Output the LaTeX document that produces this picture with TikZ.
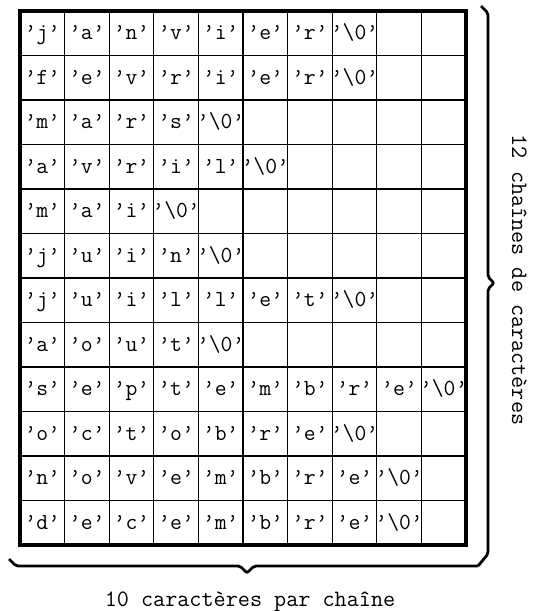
\documentclass[tikz,border=0pt]{standalone}
\newcommand\nulchar{\textbackslash 0}
\begin{document}
\begin{tikzpicture}[x=1pt,y=-1pt,line join=miter,
  celltext/.style={font=\ttfamily\fontsize{23}{27}\selectfont, inner sep=0pt, text height=14pt, text depth=1pt},
  labeltext/.style={font=\ttfamily\fontsize{23.5}{27}\selectfont, inner sep=0pt},
  gridline/.style={line width=1.3pt},
  border/.style={line width=3.4pt},
  bracepath/.style={line width=2.8pt, rounded corners=2pt}]
\useasboundingbox (0,0) rectangle (534,611);
% grid
\foreach \i in {1,...,9} \draw[gridline] ({20+\i*44.6},11) -- ({20+\i*44.6},545);
\foreach \j in {1,...,11} \draw[gridline] (20,{11+\j*44.5}) -- (466,{11+\j*44.5});
\draw[border] (20,11) rectangle (466,545);
% cell contents
\foreach \row [count=\r] in {
  {j,a,n,v,i,e,r,\nulchar},
  {f,e,v,r,i,e,r,\nulchar},
  {m,a,r,s,\nulchar},
  {a,v,r,i,l,\nulchar},
  {m,a,i,\nulchar},
  {j,u,i,n,\nulchar},
  {j,u,i,l,l,e,t,\nulchar},
  {a,o,u,t,\nulchar},
  {s,e,p,t,e,m,b,r,e,\nulchar},
  {o,c,t,o,b,r,e,\nulchar},
  {n,o,v,e,m,b,r,e,\nulchar},
  {d,e,c,e,m,b,r,e,\nulchar}}
{
  \foreach \ch [count=\k] in \row
    \node[celltext] (c-\r-\k) at ({20+(\k-0.5)*44.6},{11+(\r-0.5)*44.5}) {’\ch’};
}
% braces
\coordinate (rb-top) at (481,6);
\coordinate (rb-tip) at (494,283);
\coordinate (corner) at (478,566);
\coordinate (bb-left) at (9,559);
\coordinate (bb-tip) at (247,573);
\draw[bracepath] (rb-top) -- (488,13) -- (488,277) -- (rb-tip) -- (488,289) -- (488,554) -- (corner);
\draw[bracepath] (bb-left) -- (16,566) -- (240,566) -- (bb-tip) -- (254,566) -- (corner);
% labels
\node[labeltext, anchor=base, rotate=-90] (lab-rows) at (512,280) {12 chaînes de caractères};
\node[labeltext, anchor=base] (lab-cols) at (250,606) {10 caractères par chaîne};
\end{tikzpicture}
\end{document}
